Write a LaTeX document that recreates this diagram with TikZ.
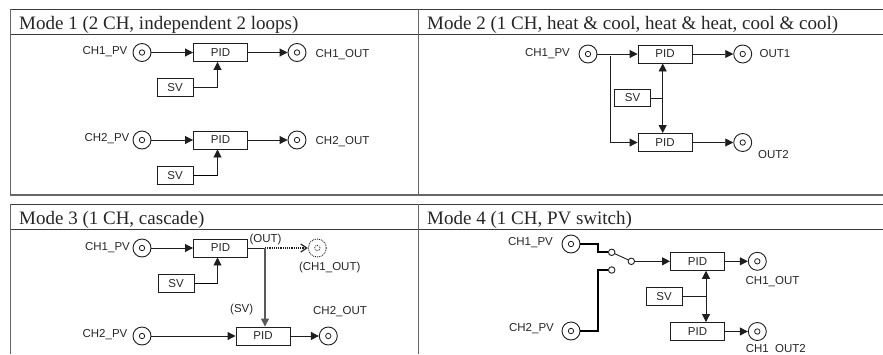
\documentclass[tikz,border=0pt]{standalone}
\usepackage{fontspec}
\setmainfont{Liberation Serif}
\setsansfont{Liberation Sans}
\usetikzlibrary{arrows.meta}
\definecolor{rule}{HTML}{3A3A3A}
\definecolor{wire}{HTML}{1E1E1E}
\tikzset{
    lbl/.style={font=\sffamily\fontsize{11.5}{12}\selectfont,text=black!85,inner sep=0pt},
    head/.style={font=\fontsize{19}{20}\selectfont,text=black!85,anchor=base west,inner sep=0pt},
    pidbox/.style={draw=wire,line width=0.9pt,minimum width=54pt,minimum height=18pt,inner sep=0pt,lbl},
    svbox/.style={draw=wire,line width=0.9pt,minimum width=36pt,minimum height=17.5pt,inner sep=0pt,lbl},
    ring/.style={circle,draw=wire,line width=0.9pt,minimum size=18pt,inner sep=0pt,
        path picture={\draw[wire,line width=0.8pt] (path picture bounding box.center) circle (2.7pt);}},
    ghost/.style={circle,draw=wire,densely dotted,line width=0.9pt,minimum size=18pt,inner sep=0pt,
        path picture={\draw[wire,densely dotted,line width=0.8pt] (path picture bounding box.center) circle (2.7pt);}},
    contact/.style={circle,draw=wire,line width=0.9pt,minimum size=6.5pt,inner sep=0pt},
    flow/.style={draw=wire,line width=0.9pt,-{Triangle[length=8pt,width=8pt]}},
    wirebar/.style={draw=wire,line width=0.9pt},
    heavy/.style={draw=black,line width=1.7pt},
}
\begin{document}
\begin{tikzpicture}[x=1pt,y=-1pt]
    \useasboundingbox (0,0) rectangle (883,354);
    % table rules
    \draw[rule,line width=0.9pt] (10,9) -- (883,9);
    \draw[rule,line width=0.9pt] (10,34.7) -- (883,34.7);
    \draw[black!60,line width=1.3pt] (10,195) -- (883,195);
    \draw[rule,line width=0.9pt] (10,204) -- (883,204);
    \draw[rule,line width=0.9pt] (10,229.5) -- (883,229.5);
    \draw[black!60,line width=0.9pt] (10,9) -- (10,195);
    \draw[black!60,line width=0.9pt] (10,204) -- (10,354);
    \draw[black!60,line width=0.9pt] (418,9) -- (418,195);
    \draw[black!60,line width=0.9pt] (418,204) -- (418,354);
    % mode 1
    \begin{scope}[shift={(0,0)}]
        \node[head] (titleA) at (19,29) {Mode 1 (2 CH, independent 2 loops)};
        \node[lbl] (pvA) at (105,52) {CH1\_PV};
        \node[ring] (inA) at (142,52.5) {};
        \node[pidbox] (pidA) at (220.5,52.5) {PID};
        \node[ring] (outA) at (297,52.5) {};
        \node[lbl] (outlA) at (342.5,54.5) {CH1\_OUT};
        \node[svbox] (svA) at (175,87.5) {SV};
        \draw[flow] (inA.east) -- (pidA.west);
        \draw[flow] (pidA.east) -- (outA.west);
        \draw[flow] (svA.east) -| ([xshift=-3pt]pidA.south);
        \node[lbl] (pvB) at (107,139) {CH2\_PV};
        \node[ring] (inB) at (142,140) {};
        \node[pidbox] (pidB) at (220.5,140) {PID};
        \node[ring] (outB) at (297,140) {};
        \node[lbl] (outlB) at (342.5,141.5) {CH2\_OUT};
        \node[svbox] (svB) at (175,175.5) {SV};
        \coordinate (cornerB) at (217.5,175.5);
        \draw[flow] (inB.east) -- (pidB.west);
        \draw[flow] (pidB.east) -- (outB.west);
        \draw[heavy] (svB.east) -- (cornerB);
        \draw[flow] (cornerB) -- ([xshift=-3pt]pidB.south);
    \end{scope}
    % mode 2
    \begin{scope}[shift={(420,0)}]
        \node[head] (titleC) at (7,29) {Mode 2 (1 CH, heat \& cool, heat \& heat, cool \& cool)};
        \node[lbl] (pvC) at (127.5,54) {CH1\_PV};
        \node[ring] (inC) at (168,54) {};
        \node[pidbox] (pidC) at (245,54) {PID};
        \node[ring] (outC) at (322.7,54) {};
        \node[lbl] (outlC) at (355,53.5) {OUT1};
        \node[pidbox] (pidD) at (245,142.5) {PID};
        \node[ring] (outD) at (322.7,142.5) {};
        \node[lbl] (outlD) at (353.5,154.5) {OUT2};
        \node[svbox] (svC) at (212.5,98) {SV};
        \coordinate (tapC) at (190,56);
        \coordinate (midC) at (242.7,98);
        \draw[flow] (inC.east) -- (pidC.west);
        \draw[flow] (pidC.east) -- (outC.west);
        \draw[flow] (pidD.east) -- (outD.west);
        \draw[flow] (tapC) |- (pidD.west);
        \draw[wirebar] (svC.east) -- (midC);
        \draw[flow] (midC) -- (midC |- pidC.south);
        \draw[flow] (midC) -- (midC |- pidD.north);
    \end{scope}
    % mode 3
    \begin{scope}[shift={(0,195)}]
        \node[head] (titleE) at (19,29) {Mode 3 (1 CH, cascade)};
        \node[lbl] (pvE) at (107.5,53) {CH1\_PV};
        \node[ring] (inE) at (142,53) {};
        \node[pidbox] (pidE) at (220.5,53) {PID};
        \node[svbox] (svE) at (176,88.5) {SV};
        \node[ghost] (outE) at (317.3,53) {};
        \node[lbl] (tagE) at (265.5,44.5) {(OUT)};
        \node[lbl] (outlE) at (329.7,73) {(CH1\_OUT)};
        \node[lbl] (tagF) at (241.7,114.5) {(SV)};
        \node[lbl] (outlF) at (340,116.5) {CH2\_OUT};
        \node[lbl] (pvF) at (105,139.5) {CH2\_PV};
        \node[ring] (inF) at (142,141) {};
        \node[pidbox] (pidF) at (263,141) {PID};
        \node[ring] (outF) at (328.3,141) {};
        \coordinate (tapE) at (265,53);
        \coordinate (cornerE) at (217.5,88.5);
        \draw[flow] (inE.east) -- (pidE.west);
        \draw[heavy] (svE.east) -- (cornerE);
        \draw[flow] (cornerE) -- ([xshift=-3pt]pidE.south);
        \draw[wirebar] (pidE.east) -- (tapE);
        \draw[wire,densely dotted,line width=1.2pt,-{Straight Barb[length=6pt,width=8pt]}] (tapE) -- (outE.west);
        \draw[flow,black!65,line width=1.4pt] (tapE) -- (tapE |- pidF.north);
        \draw[flow] (inF.east) -- (pidF.west);
        \draw[flow] (pidF.east) -- (outF.west);
    \end{scope}
    % mode 4
    \begin{scope}[shift={(420,195)}]
        \node[head] (titleG) at (7,29) {Mode 4 (1 CH, PV switch)};
        \node[lbl] (pvG) at (110.5,48) {CH1\_PV};
        \node[ring] (inG) at (151,49) {};
        \node[lbl] (pvH) at (111.5,134) {CH2\_PV};
        \node[ring] (inH) at (151,136) {};
        \node[contact] (swA) at (191.7,57.3) {};
        \node[contact] (swB) at (191.7,75) {};
        \node[contact] (swC) at (211.3,66.3) {};
        \node[pidbox] (pidG) at (277.5,66.3) {PID};
        \node[ring] (outG) at (337.3,66.3) {};
        \node[lbl] (outlG) at (352.5,87) {CH1\_OUT};
        \node[pidbox] (pidH) at (277.5,136.5) {PID};
        \node[ring] (outH) at (337.3,136.5) {};
        \node[lbl] (outlH) at (355.8,154) {CH1\ \ OUT2};
        \node[svbox] (svG) at (244,101.5) {SV};
        \coordinate (bendG) at (178.3,57.3);
        \coordinate (bendH) at (178.3,75);
        \coordinate (midG) at (286,101.5);
        \draw[heavy] (inG.east) -| (bendG) -- (swA.west);
        \draw[heavy] (inH.east) -| (bendH) -- (swB.west);
        \draw[wirebar] (swA) -- (swC);
        \draw[flow] (swC.east) -- (pidG.west);
        \draw[flow] (pidG.east) -- (outG.west);
        \draw[flow] (pidH.east) -- (outH.west);
        \draw[wirebar] (svG.east) -- (midG);
        \draw[flow] (midG) -- (midG |- pidG.south);
        \draw[flow] (midG) -- (midG |- pidH.north);
    \end{scope}
\end{tikzpicture}
\end{document}
